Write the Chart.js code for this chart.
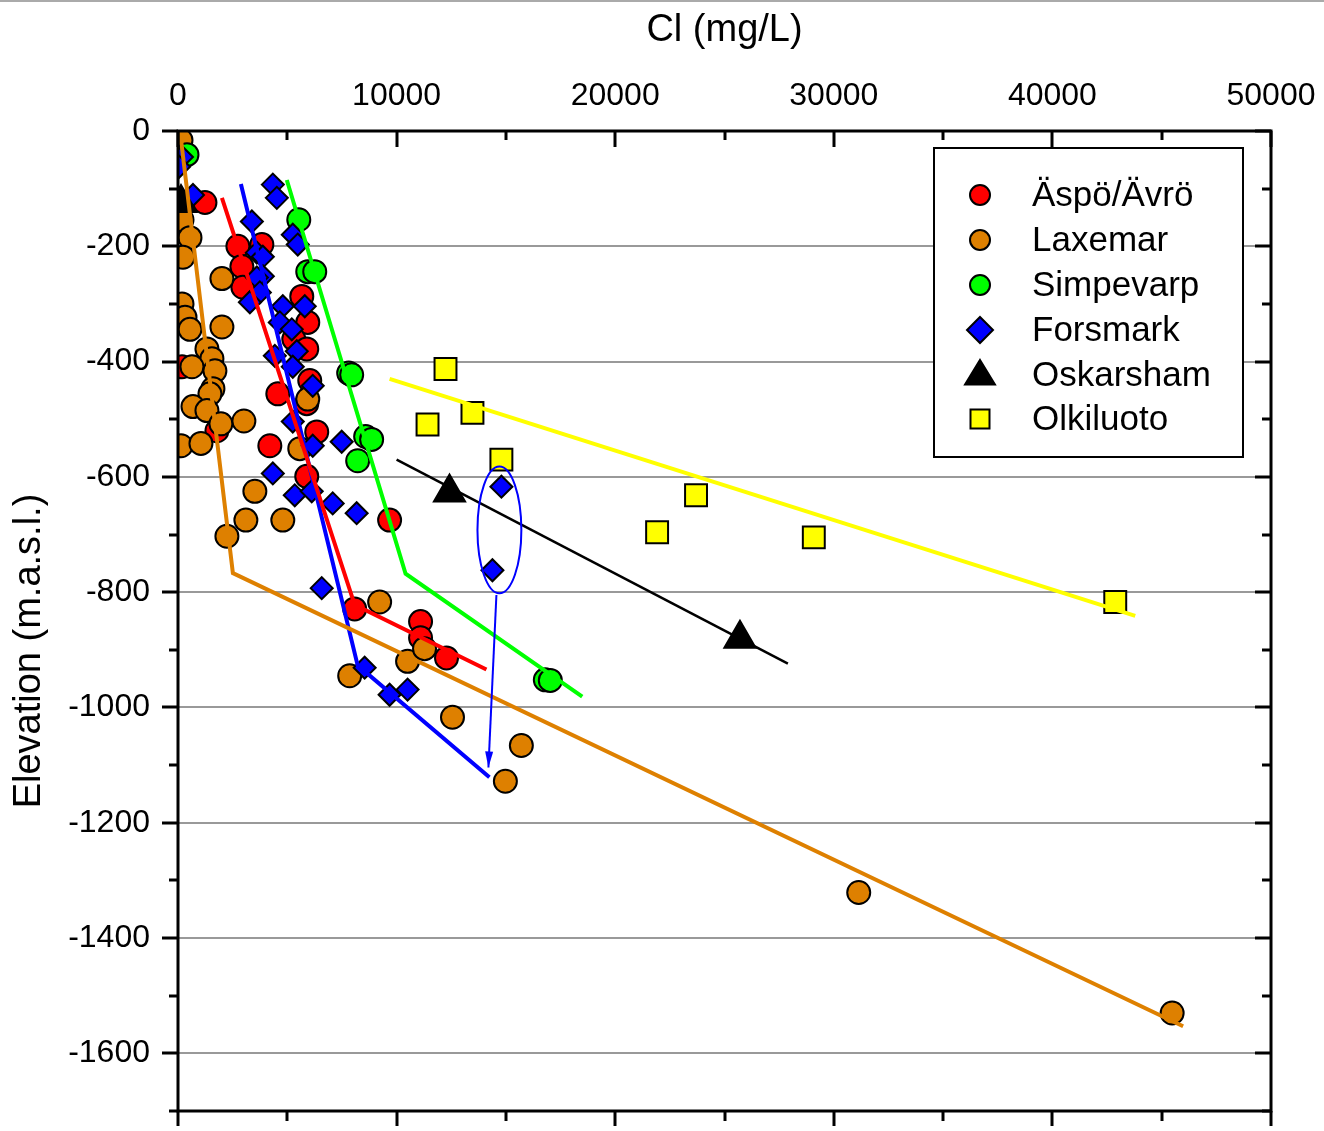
<!DOCTYPE html>
<html><head><meta charset="utf-8">
<script src="https://cdn.jsdelivr.net/npm/chart.js@4.4.0/dist/chart.umd.min.js"></script>
<style>html,body{margin:0;padding:0;background:#fff;overflow:hidden}canvas{display:block}</style>
</head><body>
<canvas id="c" width="1324" height="1131"></canvas>
<script>
// ---------- data ----------
const seriesNames = ['Äspö/Ävrö', 'Laxemar', 'Simpevarp', 'Forsmark', 'Oskarsham', 'Olkiluoto'];
const xTitle = 'Cl (mg/L)';
const yTitle = 'Elevation (m.a.s.l.)';
const xTickValues = [0, 10000, 20000, 30000, 40000, 50000];
const yTickValues = [0, -200, -400, -600, -800, -1000, -1200, -1400, -1600];

const aspoCl   = [1233, 2740, 3836, 2922, 2968, 5662, 5936, 5297, 5890, 6027, 4566, 5890, 6347, 4201, 5890, 9680, 8082, 11096, 11096, 12283, 183, 1781];
const aspoElev = [-124, -200, -197, -235, -271, -287, -332, -361, -378, -433, -456, -473, -522, -546, -599, -675, -829, -851, -879, -914, -409, -520];

const laxCl   = [137, 183, 548, 228, 2009, 183, 320, 548, 2009, 1324, 1552, 639, 1689, 1598, 1461, 685, 1324, 1963, 3014, 137, 1050, 3516, 4794, 3105, 2237, 5936, 5571, 9224, 7854, 10502, 11278, 12557, 15707, 14976, 31140, 45478];
const laxElev = [-16, -154, -185, -219, -256, -300, -323, -344, -340, -378, -395, -409, -416, -447, -456, -478, -485, -508, -503, -546, -542, -625, -675, -675, -703, -465, -551, -817, -945, -920, -898, -1017, -1066, -1128, -1321, -1530];

const simpCl   = [411, 5525, 5936, 6255, 7808, 7945, 8584, 8858, 8219, 16803, 17032];
const simpElev = [-41, -154, -244, -244, -420, -423, -530, -535, -572, -952, -953];

const forsCl   = [183, 50, 685, 4338, 4520, 3379, 5251, 5479, 3607, 3881, 3881, 3607, 3744, 3288, 4794, 5799, 4657, 5205, 5434, 5251, 6164, 5251, 6164, 7488, 4338, 5342, 6118, 7077, 8173, 6575, 8539, 9680, 10502, 14384, 14795, 4429];
const forsElev = [-45, -62, -111, -93, -116, -157, -180, -197, -211, -218, -252, -254, -280, -297, -304, -304, -332, -344, -382, -409, -442, -504, -546, -539, -594, -632, -625, -646, -663, -793, -931, -978, -969, -762, -617, -390];

const oskCl   = [137, 12420, 25707];
const oskElev = [-125, -627, -881];

const olkiCl   = [12237, 13470, 11415, 14794, 23698, 21917, 29085, 42875];
const olkiElev = [-413, -489, -509, -570, -632, -696, -705, -817];

// trend lines
const aspoLineCl = [2009, 8082, 14109],   aspoLineElev = [-116, -822, -934];
const laxLineCl  = [91, 2511, 45980],     laxLineElev  = [0, -767, -1553];
const simpLineCl = [4977, 10411, 18493],  simpLineElev = [-85, -768, -981];
const forsLineCl = [2877, 8219, 14246],   forsLineElev = [-92, -927, -1121];
const oskLineCl  = [10000, 27900],        oskLineElev  = [-570, -924];
const olkiLineCl = [9680, 43790],         olkiLineElev = [-430, -841];

// highlighted Forsmark pair (ellipse) and arrow
const ellipseCenter = [14703, -692];
const ellipseHalfAxes = [1004, 110];
const arrowFrom = [14566, -805];
const arrowTo   = [14200, -1104];

// ---------- helpers ----------
const pts = (xs, ys) => xs.map((v, i) => ({x: v, y: ys[i]}));
const C = {
  red: '#FF0000', orange: '#DE8000', green: '#00FF00', blue: '#0000FF', black: '#000000', yellow: '#FFFF00'
};
const FONT = 'Arial, "Liberation Sans", sans-serif';

function lineDs(xs, ys, color, w) {
  return {type: 'scatter', data: pts(xs, ys), showLine: true, borderColor: color, borderWidth: w,
    pointRadius: 0, fill: false, tension: 0, order: 0};
}
function ptDs(label, xs, ys, color, style, r, order) {
  return {type: 'scatter', label, data: pts(xs, ys), pointStyle: style, pointRadius: r, pointHoverRadius: r,
    backgroundColor: color, borderColor: '#000', borderWidth: 2, showLine: false, order};
}

const legendStyles = [
  {style: 'circle', color: C.red, r: 10},
  {style: 'circle', color: C.orange, r: 10},
  {style: 'circle', color: C.green, r: 10},
  {style: 'rectRot', color: C.blue, r: 13},
  {style: 'triangle', color: C.black, r: 15},
  {style: 'rect', color: C.yellow, r: 9.5},
];

function drawMarker(ctx, style, color, x, y, r) {
  ctx.save();
  ctx.fillStyle = color; ctx.strokeStyle = '#000'; ctx.lineWidth = 2;
  ctx.beginPath();
  if (style === 'circle') ctx.arc(x, y, r, 0, Math.PI * 2);
  else if (style === 'rectRot') { ctx.moveTo(x, y - r); ctx.lineTo(x + r, y); ctx.lineTo(x, y + r); ctx.lineTo(x - r, y); ctx.closePath(); }
  else if (style === 'triangle') { ctx.moveTo(x, y - r); ctx.lineTo(x + r * 0.866 * 1.15, y + r * 0.5 + 2); ctx.lineTo(x - r * 0.866 * 1.15, y + r * 0.5 + 2); ctx.closePath(); }
  else if (style === 'rect') ctx.rect(x - r, y - r, 2 * r, 2 * r);
  ctx.fill(); ctx.stroke();
  ctx.restore();
}

const decor = {
  id: 'decor',
  afterDatasetsDraw(chart) {
    const {ctx, chartArea: a, scales: {x, y}} = chart;
    ctx.save();
    // ellipse
    const cx = x.getPixelForValue(ellipseCenter[0]), cy = y.getPixelForValue(ellipseCenter[1]);
    const rx = Math.abs(x.getPixelForValue(ellipseCenter[0] + ellipseHalfAxes[0]) - cx);
    const ry = Math.abs(y.getPixelForValue(ellipseCenter[1] + ellipseHalfAxes[1]) - cy);
    ctx.strokeStyle = C.blue; ctx.lineWidth = 2;
    ctx.beginPath(); ctx.ellipse(cx, cy, rx, ry, 0, 0, Math.PI * 2); ctx.stroke();
    // arrow
    const ax0 = x.getPixelForValue(arrowFrom[0]), ay0 = y.getPixelForValue(arrowFrom[1]);
    const ax1 = x.getPixelForValue(arrowTo[0]), ay1 = y.getPixelForValue(arrowTo[1]);
    ctx.beginPath(); ctx.moveTo(ax0, ay0); ctx.lineTo(ax1, ay1); ctx.stroke();
    const ang = Math.atan2(ay1 - ay0, ax1 - ax0);
    ctx.fillStyle = C.blue;
    ctx.beginPath();
    ctx.moveTo(ax1, ay1);
    ctx.lineTo(ax1 - 16 * Math.cos(ang) + 4 * Math.sin(ang), ay1 - 16 * Math.sin(ang) - 4 * Math.cos(ang));
    ctx.lineTo(ax1 - 16 * Math.cos(ang) - 4 * Math.sin(ang), ay1 - 16 * Math.sin(ang) + 4 * Math.cos(ang));
    ctx.closePath(); ctx.fill();

    // legend box
    const lx = 934, ly = 148, lw = 309, lh = 309;
    ctx.fillStyle = '#fff'; ctx.fillRect(lx, ly, lw, lh);
    ctx.strokeStyle = '#000'; ctx.lineWidth = 2; ctx.strokeRect(lx, ly, lw, lh);
    const rowY = [195, 240, 285, 330, 375, 419];
    ctx.font = '35px ' + FONT; ctx.textBaseline = 'middle'; ctx.textAlign = 'left'; 
    seriesNames.forEach((n, i) => {
      const s = legendStyles[i];
      drawMarker(ctx, s.style, s.color, 980, rowY[i], s.r);
      ctx.fillStyle = '#000';
      ctx.fillText(n, 1032, rowY[i] + 1);
    });

    // frame
    ctx.strokeStyle = '#000'; ctx.lineWidth = 3;
    ctx.strokeRect(a.left, a.top, a.right - a.left, a.bottom - a.top);
    ctx.lineWidth = 3;
    // x ticks (top inward, bottom outward)
    for (let i = 0; i < xTickValues.length; i++) {
      const vals = [[xTickValues[i], 16, 15]];
      if (i < xTickValues.length - 1) vals.push([(xTickValues[i] + xTickValues[i + 1]) / 2, 9, 10]);
      vals.forEach(([v, lt, lb]) => {
        const px = Math.round(x.getPixelForValue(v));
        ctx.beginPath(); ctx.moveTo(px, a.top); ctx.lineTo(px, a.top + lt); ctx.stroke();
        ctx.beginPath(); ctx.moveTo(px, a.bottom); ctx.lineTo(px, a.bottom + lb); ctx.stroke();
      });
    }
    // y ticks (left outward, right inward)
    const yMin = y.min;
    for (let i = 0; i < yTickValues.length; i++) {
      const vals = [[yTickValues[i], 16]];
      const half = yTickValues[i] - 100;
      if (half >= yMin) vals.push([half, 9]);
      vals.forEach(([v, l]) => {
        const py = Math.round(y.getPixelForValue(v));
        ctx.beginPath(); ctx.moveTo(a.left - l, py); ctx.lineTo(a.left, py); ctx.stroke();
        ctx.beginPath(); ctx.moveTo(a.right - l, py); ctx.lineTo(a.right, py); ctx.stroke();
      });
    }
    // y title
    ctx.save();
    ctx.translate(30, 651); ctx.rotate(-Math.PI / 2);
    ctx.font = '38px ' + FONT; ctx.fillStyle = '#000'; ctx.textAlign = 'center'; ctx.textBaseline = 'middle';
    ctx.fillText(yTitle, 0, 0);
    ctx.restore();
    // top border of the picture
    ctx.fillStyle = '#aaa'; ctx.fillRect(0, 0, chart.width, 2);
    ctx.restore();
  }
};

new Chart(document.getElementById('c'), {
  type: 'scatter',
  data: {
    datasets: [
      lineDs(aspoLineCl, aspoLineElev, C.red, 4),
      lineDs(laxLineCl, laxLineElev, C.orange, 4),
      lineDs(simpLineCl, simpLineElev, C.green, 4),
      lineDs(forsLineCl, forsLineElev, C.blue, 4),
      lineDs(oskLineCl, oskLineElev, C.black, 2.5),
      lineDs(olkiLineCl, olkiLineElev, C.yellow, 4),
      ptDs(seriesNames[5], olkiCl, olkiElev, C.yellow, 'rect', 15.5, 1),
      ptDs(seriesNames[4], oskCl, oskElev, C.black, 'triangle', 18, 2),
      ptDs(seriesNames[3], forsCl, forsElev, C.blue, 'rectRot', 11, 3),
      ptDs(seriesNames[2], simpCl, simpElev, C.green, 'circle', 11.5, 4),
      ptDs(seriesNames[1], laxCl, laxElev, C.orange, 'circle', 11.5, 5),
      ptDs(seriesNames[0], aspoCl, aspoElev, C.red, 'circle', 11.5, 6),
    ]
  },
  options: {
    responsive: false,
    animation: false,
    devicePixelRatio: 1,
    layout: {padding: {left: 0, top: 0, right: 53, bottom: 16}},
    plugins: {legend: {display: false}, tooltip: {enabled: false}},
    events: [],
    scales: {
      x: {
        type: 'linear', position: 'top', min: 0, max: 50000,
        afterBuildTicks: s => { s.ticks = xTickValues.map(v => ({value: v})); },
        afterFit: s => { s.height = 131; s.paddingLeft = 0; s.paddingRight = 0; },
        ticks: {font: {size: 32, family: FONT}, color: '#000', padding: 16, maxRotation: 0, autoSkip: false,
          callback: v => String(v)},
        grid: {display: false, drawTicks: false},
        border: {display: false},
        title: {display: true, text: xTitle, color: '#000', font: {size: 38, family: FONT}, padding: {top: 8, bottom: 0}}
      },
      y: {
        type: 'linear', position: 'left', min: -1700, max: 0,
        afterBuildTicks: s => { s.ticks = yTickValues.map(v => ({value: v})); },
        afterFit: s => { s.width = 178; s.paddingTop = 0; s.paddingBottom = 0; },
        ticks: {font: {size: 32, family: FONT}, color: '#000', padding: 28, autoSkip: false,
          callback: v => String(v)},
        grid: {color: '#999999', lineWidth: 2, drawTicks: false},
        border: {display: false}
      }
    }
  },
  plugins: [decor]
});
</script>
</body></html>
